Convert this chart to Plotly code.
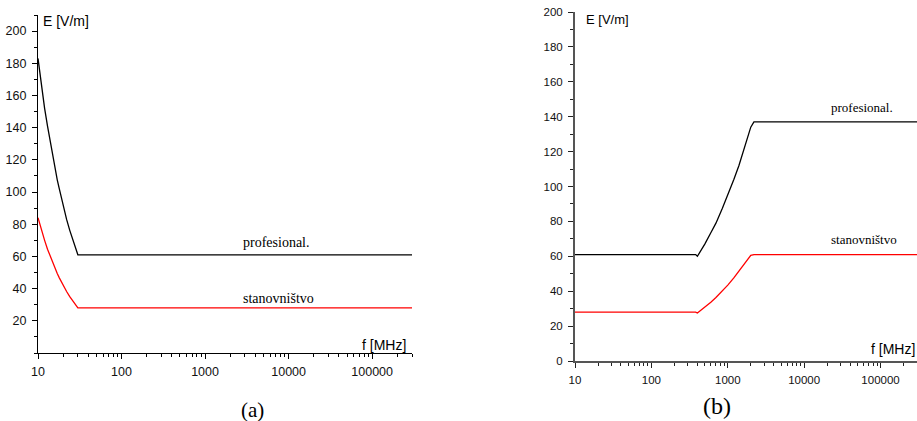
import plotly.graph_objects as go

W, H = 917, 421

# ---- data ----
a_freq = [10, 11, 12, 13, 14, 15, 16, 17, 18, 19, 20, 22, 24, 26, 28, 30, 300000]
a_prof = [183, 166, 152, 141, 131, 122, 114, 107.6, 102, 96.3, 91.5, 83, 76.2, 70.4, 65, 61, 61]
a_stan = [84, 76, 70, 64.5, 60, 56, 52.5, 49.4, 46.7, 44.2, 42, 38.2, 35, 32.3, 30, 28, 28]

b_freq = [10, 380, 400, 450, 500, 600, 700, 850, 1000, 1200, 1400, 1600, 1800, 2000, 2200, 300000]
b_prof = [61, 61, 60, 63.6, 67, 73.5, 79, 87.5, 95, 104, 112, 120, 127, 134, 137, 137]
b_stan = [28, 28, 27.5, 29.2, 30.7, 33.7, 36.4, 40.1, 43.5, 47.6, 51.4, 55, 58.3, 60.5, 61, 61]

x_ticks = [10, 100, 1000, 10000, 100000]
x_ticktext = ["10", "100", "1000", "10000", "100000"]
x_minor = [m * d for d in [10, 100, 1000, 10000, 100000] for m in range(2, 10)]
ya_ticks = [20, 40, 60, 80, 100, 120, 140, 160, 180, 200]
yb_ticks = [0, 20, 40, 60, 80, 100, 120, 140, 160, 180, 200]

label_prof = "profesional."
label_stan = "stanovništvo"


def px(x):
    return x / W


def py(y):
    return 1 - y / H


SANS = "Liberation Sans, Arial, sans-serif"
SERIF = "Liberation Serif, Times New Roman, serif"

fig = go.Figure()
fig.add_trace(go.Scatter(x=a_freq, y=a_prof, mode="lines", line=dict(color="black", width=1.3),
                         xaxis="x", yaxis="y", showlegend=False))
fig.add_trace(go.Scatter(x=a_freq, y=a_stan, mode="lines", line=dict(color="#ff0000", width=1.3),
                         xaxis="x", yaxis="y", showlegend=False))
fig.add_trace(go.Scatter(x=b_freq, y=b_prof, mode="lines", line=dict(color="black", width=1.3),
                         xaxis="x2", yaxis="y2", showlegend=False))
fig.add_trace(go.Scatter(x=b_freq, y=b_stan, mode="lines", line=dict(color="#ff0000", width=1.3),
                         xaxis="x2", yaxis="y2", showlegend=False))

common_x = dict(type="log", range=[1, 5.4771], showgrid=False, zeroline=False, showline=True,
                ticks="outside", tickvals=x_ticks, ticktext=x_ticktext, fixedrange=True)

fig.update_layout(
    width=W, height=H,
    margin=dict(l=0, r=0, t=0, b=0, autoexpand=False),
    paper_bgcolor="white", plot_bgcolor="white",
    showlegend=False,
    xaxis=dict(**common_x, domain=[px(38), px(412)], anchor="y",
               linecolor="black", linewidth=1.3, tickcolor="black", ticklen=5, tickwidth=1.2,
               ticklabelstandoff=2,
               tickfont=dict(family=SANS, size=12.5, color="#111"),
               minor=dict(tickvals=x_minor, ticks="outside", ticklen=3, tickcolor="black", tickwidth=1)),
    yaxis=dict(domain=[py(353), py(15)], anchor="x", range=[0, 210], showgrid=False, zeroline=False,
               showline=True, linecolor="black", linewidth=1.3, ticks="outside", ticklen=5,
               tickwidth=1.2, tickcolor="black", tickvals=ya_ticks, ticklabelstandoff=3,
               tickfont=dict(family=SANS, size=12.5, color="#111"), fixedrange=True,
               minor=dict(dtick=10, ticks="outside", ticklen=3, tickcolor="black", tickwidth=1)),
    xaxis2=dict(**common_x, domain=[px(575), 1.0], anchor="y2",
                linecolor="#555", linewidth=2, tickcolor="#222", ticklen=5, tickwidth=1.2,
                ticklabelstandoff=2,
                tickfont=dict(family=SANS, size=11.5, color="#111"),
                minor=dict(tickvals=x_minor, ticks="outside", ticklen=3, tickcolor="#222", tickwidth=1)),
    yaxis2=dict(domain=[py(361), py(12)], anchor="x2", range=[0, 200], showgrid=False, zeroline=False,
                showline=True, linecolor="#555", linewidth=2, ticks="outside", ticklen=5,
                tickwidth=1.2, tickcolor="#222", tickvals=yb_ticks, ticklabelstandoff=3,
                tickfont=dict(family=SANS, size=11.5, color="#111"), fixedrange=True,
                minor=dict(dtick=10, ticks="outside", ticklen=3, tickcolor="#222", tickwidth=1)),
)

ann = []


def add_text(text, x, y, size, family, xanchor="left"):
    ann.append(dict(text=text, x=px(x), y=py(y), xref="paper", yref="paper", showarrow=False,
                    xanchor=xanchor, yanchor="middle", font=dict(family=family, size=size, color="black")))


# panel (a)
add_text("E [V/m]", 41, 21, 14, SANS)
add_text("f [MHz]", 408, 345, 14, SANS, xanchor="right")
add_text(label_prof, 241, 242, 14, SERIF)
add_text(label_stan, 241, 298, 14, SERIF)
add_text("(a)", 252, 410, 21, SERIF, xanchor="center")
# panel (b)
add_text("E [V/m]", 584, 19, 13, SANS)
add_text("f [MHz]", 917, 349, 14, SANS, xanchor="right")
add_text(label_prof, 829, 108, 13, SERIF)
add_text(label_stan, 829, 239, 13, SERIF)
add_text("(b)", 717, 406, 24, SERIF, xanchor="center")

fig.update_layout(annotations=ann)
fig.write_html("out.html")
